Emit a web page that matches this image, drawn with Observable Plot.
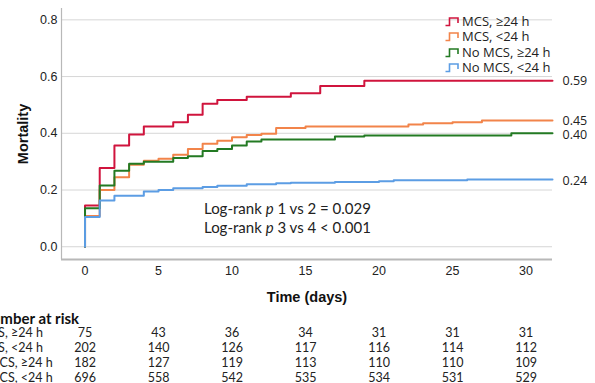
<!DOCTYPE html>
<html><head><meta charset="utf-8">
<script src="https://cdn.jsdelivr.net/npm/d3@7"></script>
<script src="https://cdn.jsdelivr.net/npm/@observablehq/plot@0.6"></script>
<style>
html,body{margin:0;padding:0;background:#fff;overflow:hidden;}
#wrap{position:relative;width:595px;height:383px;}
#wrap svg{display:block;}
.legend{position:absolute;left:445px;top:14px;font-family:"Open Sans",sans-serif;font-size:13px;line-height:15.3px;color:#222;}
.legend .row{display:flex;align-items:center;height:15.3px;line-height:15.3px;white-space:nowrap;}
.legend svg{margin-right:2px;}
.annot{position:absolute;left:204px;top:199px;font-family:Lato,sans-serif;font-size:15px;line-height:18.7px;color:#222;white-space:nowrap;}
g[aria-label="x-axis label"] text, g[aria-label="y-axis label"] text{font-weight:bold;font-size:14.5px;fill:#111;}
</style></head><body><div id="wrap"></div><script>
// ---- data ----
const groups = ["MCS, ≥24 h", "MCS, <24 h", "No MCS, ≥24 h", "No MCS, <24 h"];
const colors = ["#d0143d", "#f2844a", "#237a23", "#5c9de4"];
const endLabels = ["0.59", "0.45", "0.40", "0.24"];

const mcsLongT = [0, 0, 1, 2, 3, 4, 6, 7, 8, 9, 11, 14, 16, 19];
const mcsLongS = [0, 0.145, 0.278, 0.357, 0.396, 0.424, 0.439, 0.465, 0.504, 0.517, 0.529, 0.541, 0.567, 0.585];
const mcsShortT = [0, 0, 1, 2, 3, 4, 5, 6, 7, 8, 9, 10, 11, 12, 13, 15, 22, 23, 25, 27];
const mcsShortS = [0, 0.108, 0.2, 0.245, 0.289, 0.303, 0.31, 0.324, 0.345, 0.363, 0.374, 0.386, 0.394, 0.398, 0.419, 0.424, 0.431, 0.435, 0.439, 0.445];
const noMcsLongT = [0, 0, 1, 2, 3, 4, 6, 7, 8, 9, 10, 11, 12, 17, 19, 29];
const noMcsLongS = [0, 0.136, 0.216, 0.268, 0.293, 0.300, 0.313, 0.319, 0.338, 0.345, 0.357, 0.371, 0.378, 0.389, 0.392, 0.400];
const noMcsShortT = [0, 0, 1, 2, 4, 5, 6, 8, 9, 11, 13, 14, 17, 20, 21, 26];
const noMcsShortS = [0, 0.105, 0.163, 0.18, 0.195, 0.200, 0.206, 0.211, 0.215, 0.220, 0.224, 0.226, 0.228, 0.231, 0.234, 0.237];

const riskDays = [0, 5, 10, 15, 20, 25, 30];
const riskMcsLong = [75, 43, 36, 34, 31, 31, 31];
const riskMcsShort = [202, 140, 126, 117, 116, 114, 112];
const riskNoMcsLong = [182, 127, 119, 113, 110, 110, 109];
const riskNoMcsShort = [696, 558, 542, 535, 534, 531, 529];

const xTicks = [0, 5, 10, 15, 20, 25, 30];
const yTicks = [0, 0.2, 0.4, 0.6, 0.8];
const xDomain = [-1.6, 31.8];
const yDomain = [-0.045, 0.84];
const annotLines = ["1 vs 2 = 0.029", "3 vs 4 < 0.001"];

// ---- build tables ----
const seriesT = [mcsLongT, mcsShortT, noMcsLongT, noMcsShortT];
const seriesS = [mcsLongS, mcsShortS, noMcsLongS, noMcsShortS];
const curves = [];
const ends = [];
groups.forEach((g, i) => {
  seriesT[i].forEach((t, j) => curves.push({group: g, t, s: seriesS[i][j]}));
  const last = seriesS[i][seriesS[i].length - 1];
  curves.push({group: g, t: xDomain[1], s: last});
  ends.push({group: g, t: xDomain[1], s: +endLabels[i], label: endLabels[i]});
});
const riskSeries = [riskMcsLong, riskMcsShort, riskNoMcsLong, riskNoMcsShort];
const riskRows = [];
groups.forEach((g, i) => riskDays.forEach((d, j) => riskRows.push({group: g, t: d, n: riskSeries[i][j]})));

const wrap = document.getElementById("wrap");

const chart = Plot.plot({
  width: 595, height: 305,
  marginLeft: 61, marginRight: 43, marginTop: 8, marginBottom: 46,
  x: {domain: xDomain, ticks: xTicks, tickSize: 0, tickPadding: 7, label: "Time (days)", labelAnchor: "center", labelOffset: 42, labelArrow: "none"},
  y: {domain: yDomain, ticks: yTicks, tickSize: 0, tickPadding: 4, tickFormat: d3.format(".1f"), label: "Mortality", labelAnchor: "center", labelOffset: 44, labelArrow: "none"},
  color: {domain: groups, range: colors},
  style: {fontFamily: "'Liberation Sans', Arial, sans-serif", fontSize: "12.5px", color: "#222", background: "#fff"},
  marks: [
    Plot.ruleY(yTicks, {stroke: "#d6d6d6", strokeWidth: 1}),
    Plot.ruleX([xDomain[0]], {stroke: "#b8b8b8", strokeWidth: 1.2}),
    Plot.ruleY([yDomain[0]], {stroke: "#b8b8b8", strokeWidth: 2}),
    Plot.line(curves, {x: "t", y: "s", z: "group", stroke: "group", curve: "step-after", strokeWidth: 2}),
    Plot.text(ends, {x: "t", y: "s", text: "label", dx: 10, dy: 2, textAnchor: "start", fill: "#222", fontFamily: "'Open Sans', sans-serif", fontSize: 12.5})
  ]
});
wrap.appendChild(chart);

const table = Plot.plot({
  width: 595, height: 78,
  marginLeft: 61, marginRight: 43, marginTop: 26, marginBottom: 5,
  x: {domain: xDomain, axis: null},
  y: {domain: groups, type: "point", padding: 0, axis: null},
  style: {fontFamily: "Lato, sans-serif", fontSize: "12.5px", color: "#222", background: "#fff", overflow: "visible"},
  marks: [
    Plot.text(riskRows, {x: "t", y: "group", text: "n", fill: "#222"}),
    Plot.text(groups, {y: d => d, text: d => d, frameAnchor: "left", dx: -51, textAnchor: "middle", fill: "#222"}),
    Plot.text(["Number at risk"], {text: d => d, frameAnchor: "top-left", dx: -81, dy: -18, textAnchor: "start", fontWeight: "bold", fontSize: 15, fill: "#111"})
  ]
});
wrap.appendChild(table);

// legend (inside plot area, top right)
const leg = document.createElement("div");
leg.className = "legend";
groups.forEach((g, i) => {
  const row = document.createElement("div");
  row.className = "row";
  row.innerHTML = `<svg width="15" height="11"><path d="M0.5,9.5H4.5V2H13V7" fill="none" stroke="${colors[i]}" stroke-width="1.6"/></svg>`;
  const sp = document.createElement("span");
  sp.textContent = g;
  row.appendChild(sp);
  leg.appendChild(row);
});
wrap.appendChild(leg);

// annotation
const ann = document.createElement("div");
ann.className = "annot";
annotLines.forEach(l => {
  const d = document.createElement("div");
  d.innerHTML = "Log-rank <i>p</i> " + l.replace("<", "&lt;");
  ann.appendChild(d);
});
wrap.appendChild(ann);
</script></body></html>
